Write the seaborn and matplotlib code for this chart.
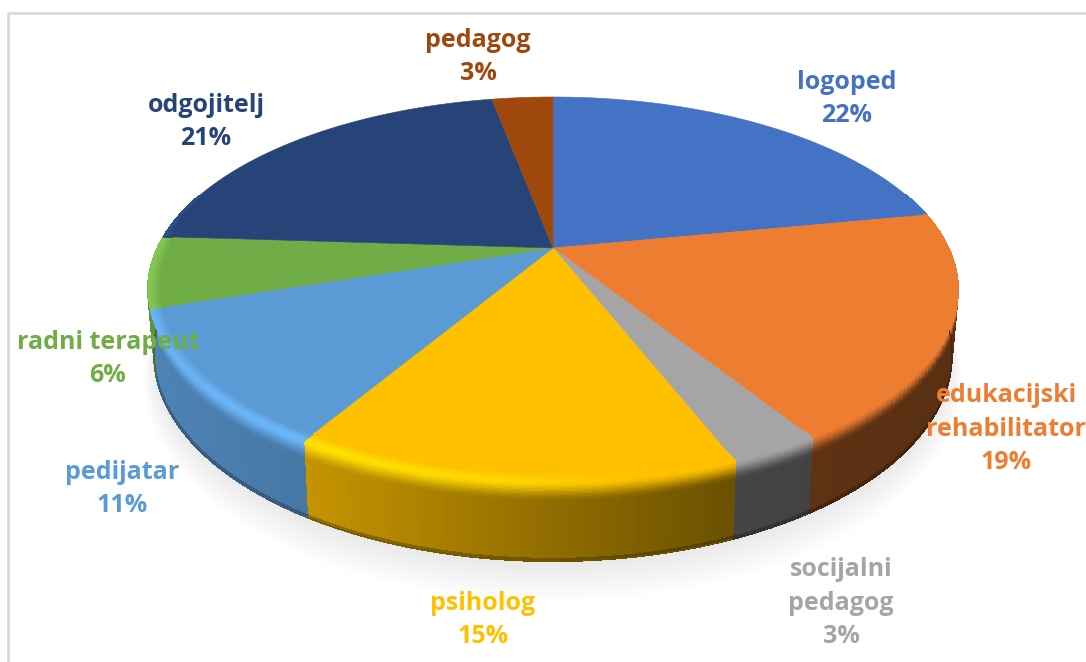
import numpy as np
import seaborn as sns
import matplotlib
matplotlib.use("Agg")
import matplotlib.pyplot as plt
from matplotlib.collections import PolyCollection

# data (clockwise from 12 o'clock)
categories = ["logoped", "edukacijski\nrehabilitator", "socijalni\npedagog", "psiholog",
              "pedijatar", "radni terapeut", "odgojitelj", "pedagog"]
shares = [22, 19, 3, 14.6, 11.4, 6, 21, 3]
colors = ["#4472C4", "#ED7D31", "#A5A5A5", "#FFC000", "#5B9BD5", "#70AD47", "#264478", "#9E480E"]
label_pos = [(847, 99), (1006, 429), (841, 603), (483, 620), (122, 489), (108, 359), (206, 122), (478, 57)]

sns.set_theme(style="white")
plt.rcParams["font.family"] = ["Open Sans", "DejaVu Sans"]
palette = sns.color_palette(colors)

# perspective of the tilted disc, in pixels
CX, CY, RX, RY, K, DEPTH = 553, 248, 395.5, 183.6, 0.2157, 62


def project(theta, r=1.0, z=0.0):
    u, v = r * np.sin(theta), r * np.cos(theta)
    w = 1 + K * v
    return CX + RX * u / w * (1 - 0.015 * z), CY - RY * v / w + DEPTH * z / w


def shade(x):
    return np.interp(x, [150, 303, 730, 900], [0.85, 0.77, 0.42, 0.38])


def glow(x):
    return np.interp(x, [150, 300, 500, 640], [0.75, 0.9, 0.6, 0.0])


def rim_color(base, x, s):
    base = np.array(base)
    bright = np.minimum(base * 1.2, 1)
    mid = base + (bright - base) * glow(x)
    wall = base * shade(x)
    if s < 0.35:
        t = s / 0.35
        return base + (mid - base) * t * t * (3 - 2 * t)
    t = (s - 0.35) / 0.65
    return mid + (wall - mid) * t * t * (3 - 2 * t)


fig, ax = plt.subplots(figsize=(10.86, 6.62), dpi=100)
fig.subplots_adjust(0, 0, 1, 1)
ax.set_xlim(0, 1086)
ax.set_ylim(662, 0)
ax.axis("off")

# chart frame, cut off by the screenshot on the right and at the bottom
ax.plot([8, 8, 1086], [662, 13, 13], color="#D9D9D9", lw=2, zorder=0)

# soft shadow under the body
t_all = np.linspace(0, 2 * np.pi, 361)
for i in range(12):
    sx, sy = project(t_all, r=0.995 + i * 0.003, z=1 + i * 0.035)
    ax.fill(sx, sy, color="#808080", alpha=0.016, lw=0, zorder=1)

edges = np.cumsum([0] + shares) / sum(shares) * 2 * np.pi
wall_quads, wall_cols, ring_quads, ring_cols = [], [], [], []
levels = np.linspace(0, 1, 25)

for start, end, col in zip(edges[:-1], edges[1:], palette):
    ts = np.linspace(start, end, max(int(np.degrees(end - start)), 2) + 1)
    for t0, t1 in zip(ts[:-1], ts[1:]):
        mid = (t0 + t1) / 2
        v = np.cos(mid)
        if v > 0.3:
            continue
        xm = project(mid)[0]
        g = np.clip((0.25 - v) / 0.25, 0.12, 1)
        for s0, s1 in zip(levels[:-1], levels[1:]):
            sm = (s0 + s1) / 2
            if sm <= 0.35:
                r0, r1 = 1 - 0.03 * g * (1 - s0 / 0.35), 1 - 0.03 * g * (1 - min(s1, 0.35) / 0.35)
                z0, z1 = 0, 0
            else:
                r0, r1 = 1, 1
                z0, z1 = 0.26 * (max(s0, 0.35) - 0.35) / 0.65, 0.26 * (s1 - 0.35) / 0.65
            quad = [project(t0, r0, z0), project(t1, r0, z0), project(t1, r1, z1), project(t0, r1, z1)]
            c = tuple(np.clip(rim_color(col, xm, sm), 0, 1))
            if sm <= 0.35:
                ring_quads.append(quad)
                ring_cols.append(c)
            else:
                wall_quads.append(quad)
                wall_cols.append(c)
        body = np.array(col) * shade(xm)
        wall_quads.append([project(t0, 1, 0.26), project(t1, 1, 0.26), project(t1, 1, 0.97), project(t0, 1, 0.97)])
        wall_cols.append(tuple(body))
        wall_quads.append([project(t0, 1, 0.97), project(t1, 1, 0.97), project(t1, 1, 1), project(t0, 1, 1)])
        wall_cols.append(tuple(body * 0.75))

# no antialiasing between the small quads, it leaves streaks
ax.add_collection(PolyCollection(wall_quads, facecolors=wall_cols, edgecolors=wall_cols,
                                 linewidths=0.6, antialiaseds=False, zorder=2))

# smooth outline along the foot of the wall
for start, end, col in zip(edges[:-1], edges[1:], palette):
    ts = np.linspace(start, end, 60)
    ts = ts[np.cos(ts) < 0.3]
    if len(ts) > 1:
        px, py = project(ts, 1, 1)
        mids = project(ts.mean())[0]
        ax.plot(px, py, color=tuple(np.array(col) * shade(mids) * 0.75), lw=0.8, zorder=2.5)

# top face of every slice
for start, end, col in zip(edges[:-1], edges[1:], palette):
    ts = np.linspace(start, end, 80)
    x, y = project(ts)
    ax.fill(np.r_[CX, x], np.r_[CY, y], facecolor=col, edgecolor=col, lw=0.4, zorder=3)

ax.add_collection(PolyCollection(ring_quads, facecolors=ring_cols, edgecolors=ring_cols,
                                 linewidths=0.6, antialiaseds=False, zorder=4))

for name, share, col, (lx, ly) in zip(categories, shares, palette, label_pos):
    ax.text(lx, ly, f"{name}\n{share:.0f}%", color=col, ha="center", va="center",
            fontsize=18, fontweight="bold", linespacing=1.45, zorder=5)

fig.savefig("out.png", dpi=100)
